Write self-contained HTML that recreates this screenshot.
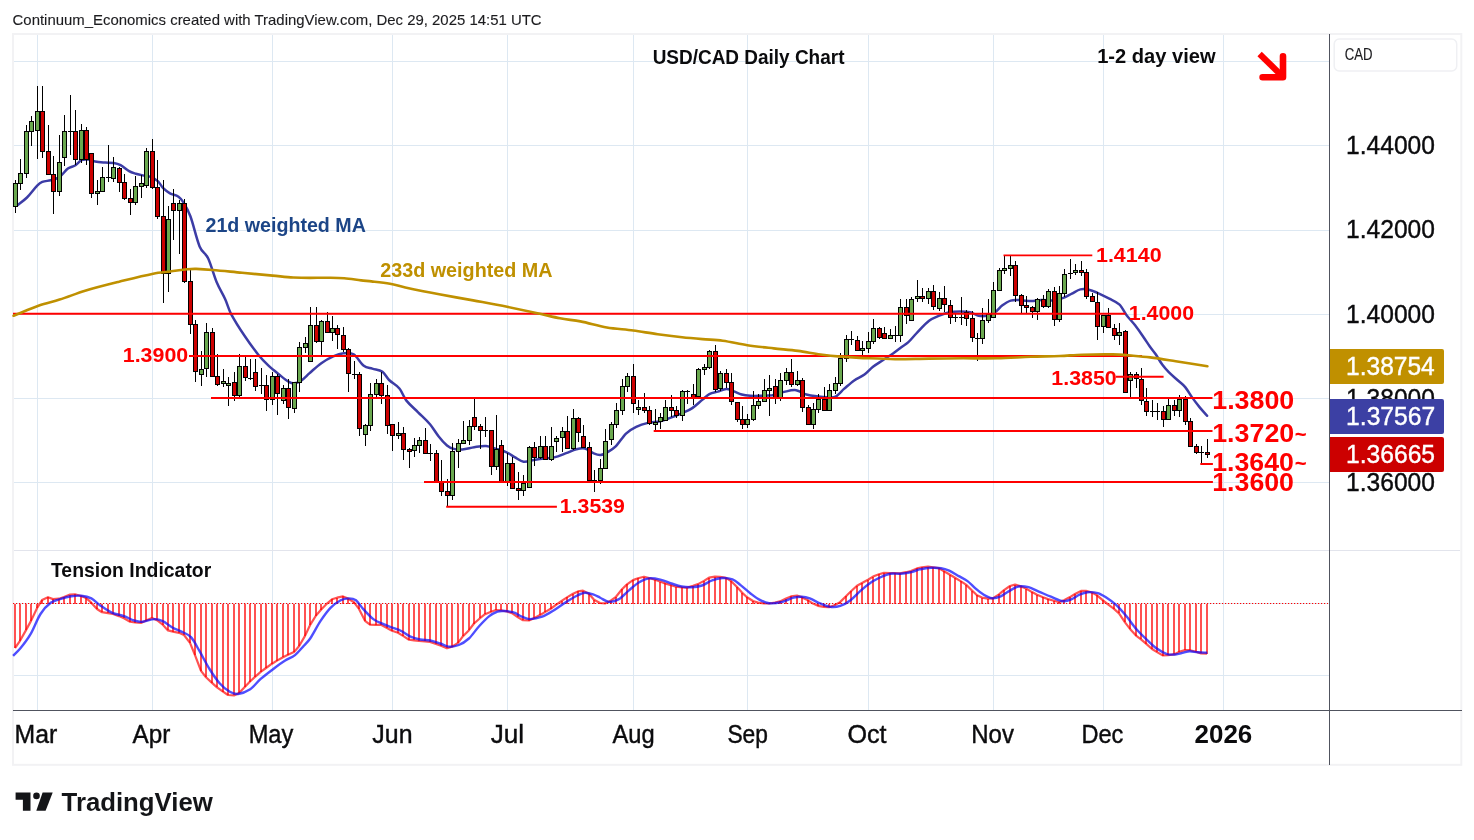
<!DOCTYPE html>
<html lang="en"><head><meta charset="utf-8"><title>USD/CAD Daily Chart</title>
<style>html,body{margin:0;padding:0;background:#fff}svg{display:block}</style>
</head><body>
<svg width="1474" height="840" viewBox="0 0 1474 840" font-family="'Liberation Sans', sans-serif">
<rect width="1474" height="840" fill="#fff"/>
<g stroke="#dde8f2" stroke-width="1" shape-rendering="crispEdges">
<line x1="37.5" y1="35" x2="37.5" y2="710.5"/>
<line x1="152.5" y1="35" x2="152.5" y2="710.5"/>
<line x1="272.5" y1="35" x2="272.5" y2="710.5"/>
<line x1="392.5" y1="35" x2="392.5" y2="710.5"/>
<line x1="507.5" y1="35" x2="507.5" y2="710.5"/>
<line x1="633.5" y1="35" x2="633.5" y2="710.5"/>
<line x1="747.5" y1="35" x2="747.5" y2="710.5"/>
<line x1="868.5" y1="35" x2="868.5" y2="710.5"/>
<line x1="993.5" y1="35" x2="993.5" y2="710.5"/>
<line x1="1103.5" y1="35" x2="1103.5" y2="710.5"/>
<line x1="1223.5" y1="35" x2="1223.5" y2="710.5"/>
<line x1="14" y1="61.5" x2="1329.5" y2="61.5"/>
<line x1="14" y1="145.5" x2="1329.5" y2="145.5"/>
<line x1="14" y1="230.5" x2="1329.5" y2="230.5"/>
<line x1="14" y1="314.5" x2="1329.5" y2="314.5"/>
<line x1="14" y1="398.5" x2="1329.5" y2="398.5"/>
<line x1="14" y1="482.5" x2="1329.5" y2="482.5"/>
<line x1="14" y1="675.5" x2="1329.5" y2="675.5"/>
</g>
<line x1="14" y1="550.5" x2="1460" y2="550.5" stroke="#e2e4ec" stroke-width="1" shape-rendering="crispEdges"/>
<rect x="13" y="34" width="1448.3" height="730.8" fill="none" stroke="#f2f2f4" stroke-width="2"/>
<path d="M16.8,205.7 C20.2,203.0 23.6,200.8 27.0,197.5 C30.4,194.2 33.8,189.1 37.2,185.6 C38.9,183.9 40.6,182.6 42.3,181.9 C45.1,180.8 48.0,181.0 50.8,180.2 C53.7,179.4 56.5,179.0 59.4,177.1 C62.2,175.2 65.1,170.7 67.9,168.6 C70.4,166.7 73.0,166.8 75.5,165.2 C77.5,163.9 79.5,161.0 81.5,160.1 C83.8,159.1 86.0,159.4 88.3,159.6 C90.6,159.8 92.8,161.1 95.1,161.5 C98.5,162.1 101.9,162.3 105.3,162.6 C108.1,162.8 111.0,162.5 113.8,163.0 C116.1,163.4 118.3,164.0 120.6,165.2 C123.4,166.7 126.3,169.6 129.1,171.2 C131.4,172.5 133.6,173.0 135.9,173.7 C138.2,174.4 140.4,174.9 142.7,175.4 C145.6,176.0 148.4,176.0 151.3,177.1 C153.6,178.0 155.8,179.3 158.1,181.4 C159.8,183.0 161.5,186.5 163.2,188.2 C165.5,190.5 167.7,192.0 170.0,193.3 C172.8,194.9 175.7,194.8 178.5,196.7 C180.2,197.9 181.9,199.8 183.6,202.6 C185.9,206.3 188.1,210.1 190.4,216.3 C193.5,224.7 196.5,239.1 199.6,246.4 C202.4,253.1 205.3,252.4 208.1,258.3 C210.9,264.2 213.8,275.3 216.6,282.1 C219.4,288.9 222.3,292.9 225.1,299.1 C227.1,303.4 229.0,310.1 231.0,313.8 C235.6,322.4 240.1,329.2 244.7,336.0 C249.2,342.8 253.8,349.0 258.3,354.7 C261.7,358.9 265.1,362.4 268.5,365.7 C271.9,368.9 275.3,371.5 278.7,374.2 C282.1,376.9 285.5,379.9 288.9,381.9 C290.6,382.9 292.3,383.4 294.0,383.3 C296.3,383.1 298.5,382.5 300.8,381.0 C303.6,379.2 306.5,375.9 309.3,373.4 C313.3,369.9 317.3,366.0 321.3,363.2 C325.3,360.4 329.2,358.2 333.2,356.4 C336.6,354.9 340.0,353.6 343.4,353.3 C346.8,352.9 350.2,352.2 353.6,354.3 C357.0,356.4 360.4,363.1 363.8,365.7 C366.6,367.9 369.5,367.7 372.3,368.6 C375.7,369.7 379.1,369.4 382.5,371.7 C384.7,373.2 386.9,377.8 389.1,380.0 C392.5,383.4 396.0,384.4 399.4,388.5 C401.7,391.2 403.9,397.5 406.2,400.4 C410.2,405.4 414.1,408.3 418.1,412.3 C422.1,416.3 426.0,419.6 430.0,424.2 C432.8,427.5 435.7,432.6 438.5,436.2 C441.3,439.8 444.2,443.1 447.0,445.5 C449.3,447.4 451.5,448.3 453.8,448.9 C456.6,449.6 459.5,449.6 462.3,449.4 C466.3,449.1 470.2,447.8 474.2,447.2 C478.2,446.6 482.1,445.7 486.1,446.0 C489.5,446.3 493.0,447.8 496.4,448.9 C499.8,449.9 503.2,450.8 506.6,452.3 C509.4,453.6 512.3,455.8 515.1,457.4 C517.9,459.0 520.8,461.3 523.6,461.7 C527.0,462.2 530.4,460.5 533.8,460.0 C537.2,459.5 540.6,459.0 544.0,458.6 C547.4,458.2 550.8,458.2 554.2,457.4 C558.2,456.4 562.1,454.7 566.1,453.2 C569.5,452.0 572.9,450.1 576.3,449.3 C579.2,448.6 582.0,447.9 584.9,448.6 C587.7,449.2 590.6,452.0 593.4,453.2 C595.7,454.1 598.1,455.1 600.4,454.9 C602.7,454.8 604.9,453.6 607.2,452.3 C610.0,450.7 612.9,449.2 615.7,446.4 C619.1,443.0 622.6,436.9 626.0,433.6 C629.4,430.3 632.8,428.4 636.2,426.8 C640.2,424.9 644.1,423.8 648.1,422.9 C652.1,422.0 656.0,422.1 660.0,421.2 C663.4,420.4 666.8,419.1 670.2,417.9 C674.2,416.5 678.1,415.0 682.1,413.2 C685.5,411.7 688.9,410.4 692.3,408.1 C695.7,405.8 699.1,402.4 702.5,399.6 C704.8,397.7 707.0,395.3 709.3,394.1 C712.1,392.6 715.0,392.4 717.8,391.6 C720.7,390.7 723.5,389.1 726.4,389.0 C728.7,388.9 730.9,390.3 733.2,391.1 C736.0,392.1 738.9,393.7 741.7,394.5 C744.5,395.3 747.4,395.6 750.2,395.8 C753.6,396.0 757.0,395.9 760.4,395.8 C764.4,395.7 768.3,395.9 772.3,395.3 C776.3,394.6 780.2,392.8 784.2,391.9 C788.2,391.0 792.1,389.7 796.1,390.2 C799.5,390.6 802.9,393.5 806.3,394.5 C810.3,395.6 814.3,396.0 818.3,396.5 C821.2,396.9 824.1,397.2 827.0,397.2 C829.8,397.2 832.7,398.0 835.5,396.6 C838.3,395.2 841.2,391.4 844.0,388.9 C847.4,386.0 850.8,382.8 854.2,380.4 C857.6,378.0 861.1,377.0 864.5,374.5 C867.3,372.5 870.2,369.0 873.0,366.8 C876.4,364.2 879.8,362.3 883.2,360.0 C886.6,357.7 890.0,355.6 893.4,353.2 C896.0,351.3 898.7,349.1 901.3,347.2 C903.6,345.5 905.8,344.5 908.1,342.4 C910.8,339.9 913.6,336.3 916.3,333.5 C920.6,329.1 924.8,324.1 929.1,320.8 C932.5,318.2 935.9,317.1 939.3,315.7 C942.7,314.3 946.1,313.0 949.5,312.3 C952.9,311.6 956.4,311.5 959.8,311.5 C963.2,311.5 966.6,311.5 970.0,312.3 C972.8,312.9 975.7,315.1 978.5,315.7 C981.3,316.3 984.2,316.3 987.0,315.7 C989.8,315.1 992.6,313.9 995.4,312.0 C997.6,310.5 999.9,307.2 1002.1,305.5 C1005.0,303.4 1007.8,301.4 1010.7,300.6 C1014.1,299.6 1017.5,300.1 1020.9,300.2 C1024.3,300.3 1027.7,301.1 1031.1,301.1 C1034.5,301.1 1038.0,300.1 1041.4,300.0 C1045.4,299.9 1049.3,300.8 1053.3,300.4 C1056.7,300.1 1060.0,299.1 1063.4,297.9 C1066.2,296.9 1069.1,295.0 1071.9,293.6 C1074.7,292.2 1077.6,290.0 1080.4,289.4 C1083.2,288.8 1086.1,289.1 1088.9,289.7 C1091.7,290.3 1094.6,291.6 1097.4,292.8 C1101.4,294.6 1105.3,296.6 1109.3,298.7 C1112.7,300.5 1116.2,301.4 1119.6,304.7 C1121.9,306.8 1124.1,311.9 1126.4,314.9 C1129.2,318.7 1132.1,321.4 1134.9,325.1 C1137.7,328.8 1140.6,332.9 1143.4,337.0 C1145.6,340.1 1147.8,343.6 1150.0,346.7 C1151.9,349.4 1153.8,351.5 1155.7,354.3 C1157.9,357.6 1160.2,361.8 1162.4,364.8 C1164.6,367.8 1166.8,370.2 1169.0,372.4 C1172.2,375.6 1175.4,378.1 1178.6,381.0 C1180.8,383.0 1183.0,384.4 1185.2,387.1 C1187.4,389.8 1189.7,394.0 1191.9,397.1 C1194.4,400.6 1197.0,404.0 1199.5,407.1 C1202.0,410.2 1204.6,412.8 1207.1,415.7" fill="none" stroke="#3c3ca6" stroke-width="2.5" stroke-linejoin="round" stroke-linecap="round"/>
<g shape-rendering="crispEdges">
<rect x="15" y="180" width="1" height="33" fill="#000"/>
<rect x="13" y="183" width="5" height="24" fill="#000"/>
<rect x="14" y="184" width="3" height="22" fill="#6aa84f"/>
<rect x="20" y="159" width="1" height="31" fill="#000"/>
<rect x="18" y="173" width="5" height="11" fill="#000"/>
<rect x="19" y="174" width="3" height="9" fill="#6aa84f"/>
<rect x="26" y="125" width="1" height="53" fill="#000"/>
<rect x="24" y="131" width="5" height="43" fill="#000"/>
<rect x="25" y="132" width="3" height="41" fill="#6aa84f"/>
<rect x="31" y="116" width="1" height="30" fill="#000"/>
<rect x="29" y="121" width="5" height="11" fill="#000"/>
<rect x="30" y="122" width="3" height="9" fill="#6aa84f"/>
<rect x="37" y="86" width="1" height="73" fill="#000"/>
<rect x="35" y="111" width="5" height="20" fill="#000"/>
<rect x="36" y="112" width="3" height="18" fill="#6aa84f"/>
<rect x="42" y="86" width="1" height="72" fill="#000"/>
<rect x="40" y="111" width="5" height="41" fill="#000"/>
<rect x="41" y="112" width="3" height="39" fill="#cc0000"/>
<rect x="48" y="125" width="1" height="50" fill="#000"/>
<rect x="46" y="151" width="5" height="24" fill="#000"/>
<rect x="47" y="152" width="3" height="22" fill="#cc0000"/>
<rect x="53" y="156" width="1" height="58" fill="#000"/>
<rect x="51" y="174" width="5" height="18" fill="#000"/>
<rect x="52" y="175" width="3" height="16" fill="#cc0000"/>
<rect x="59" y="135" width="1" height="61" fill="#000"/>
<rect x="57" y="162" width="5" height="30" fill="#000"/>
<rect x="58" y="163" width="3" height="28" fill="#6aa84f"/>
<rect x="64" y="115" width="1" height="51" fill="#000"/>
<rect x="62" y="131" width="5" height="27" fill="#000"/>
<rect x="63" y="132" width="3" height="25" fill="#6aa84f"/>
<rect x="70" y="95" width="1" height="60" fill="#000"/>
<rect x="68" y="131" width="5" height="1" fill="#000"/>
<rect x="75" y="110" width="1" height="55" fill="#000"/>
<rect x="73" y="131" width="5" height="29" fill="#000"/>
<rect x="74" y="132" width="3" height="27" fill="#cc0000"/>
<rect x="81" y="124" width="1" height="39" fill="#000"/>
<rect x="79" y="130" width="5" height="30" fill="#000"/>
<rect x="80" y="131" width="3" height="28" fill="#6aa84f"/>
<rect x="86" y="127" width="1" height="38" fill="#000"/>
<rect x="84" y="130" width="5" height="30" fill="#000"/>
<rect x="85" y="131" width="3" height="28" fill="#cc0000"/>
<rect x="91" y="153" width="1" height="45" fill="#000"/>
<rect x="89" y="153" width="5" height="41" fill="#000"/>
<rect x="90" y="154" width="3" height="39" fill="#cc0000"/>
<rect x="97" y="180" width="1" height="25" fill="#000"/>
<rect x="95" y="191" width="5" height="3" fill="#000"/>
<rect x="96" y="192" width="3" height="1" fill="#6aa84f"/>
<rect x="102" y="167" width="1" height="24" fill="#000"/>
<rect x="100" y="177" width="5" height="15" fill="#000"/>
<rect x="101" y="178" width="3" height="13" fill="#6aa84f"/>
<rect x="108" y="145" width="1" height="37" fill="#000"/>
<rect x="106" y="177" width="5" height="1" fill="#000"/>
<rect x="113" y="157" width="1" height="25" fill="#000"/>
<rect x="111" y="167" width="5" height="12" fill="#000"/>
<rect x="112" y="168" width="3" height="10" fill="#6aa84f"/>
<rect x="119" y="167" width="1" height="25" fill="#000"/>
<rect x="117" y="168" width="5" height="15" fill="#000"/>
<rect x="118" y="169" width="3" height="13" fill="#cc0000"/>
<rect x="124" y="174" width="1" height="26" fill="#000"/>
<rect x="122" y="182" width="5" height="17" fill="#000"/>
<rect x="123" y="183" width="3" height="15" fill="#cc0000"/>
<rect x="130" y="189" width="1" height="26" fill="#000"/>
<rect x="128" y="198" width="5" height="5" fill="#000"/>
<rect x="129" y="199" width="3" height="3" fill="#cc0000"/>
<rect x="135" y="176" width="1" height="29" fill="#000"/>
<rect x="133" y="186" width="5" height="17" fill="#000"/>
<rect x="134" y="187" width="3" height="15" fill="#6aa84f"/>
<rect x="141" y="175" width="1" height="23" fill="#000"/>
<rect x="139" y="183" width="5" height="4" fill="#000"/>
<rect x="140" y="184" width="3" height="2" fill="#6aa84f"/>
<rect x="146" y="148" width="1" height="40" fill="#000"/>
<rect x="144" y="151" width="5" height="35" fill="#000"/>
<rect x="145" y="152" width="3" height="33" fill="#6aa84f"/>
<rect x="152" y="139" width="1" height="50" fill="#000"/>
<rect x="150" y="151" width="5" height="37" fill="#000"/>
<rect x="151" y="152" width="3" height="35" fill="#cc0000"/>
<rect x="157" y="160" width="1" height="59" fill="#000"/>
<rect x="155" y="187" width="5" height="30" fill="#000"/>
<rect x="156" y="188" width="3" height="28" fill="#cc0000"/>
<rect x="163" y="180" width="1" height="123" fill="#000"/>
<rect x="161" y="216" width="5" height="58" fill="#000"/>
<rect x="162" y="217" width="3" height="56" fill="#cc0000"/>
<rect x="168" y="206" width="1" height="86" fill="#000"/>
<rect x="166" y="219" width="5" height="55" fill="#000"/>
<rect x="167" y="220" width="3" height="53" fill="#6aa84f"/>
<rect x="173" y="189" width="1" height="51" fill="#000"/>
<rect x="171" y="203" width="5" height="8" fill="#000"/>
<rect x="172" y="204" width="3" height="6" fill="#cc0000"/>
<rect x="179" y="200" width="1" height="54" fill="#000"/>
<rect x="177" y="203" width="5" height="8" fill="#000"/>
<rect x="178" y="204" width="3" height="6" fill="#6aa84f"/>
<rect x="184" y="199" width="1" height="84" fill="#000"/>
<rect x="182" y="203" width="5" height="79" fill="#000"/>
<rect x="183" y="204" width="3" height="77" fill="#cc0000"/>
<rect x="190" y="268" width="1" height="66" fill="#000"/>
<rect x="188" y="281" width="5" height="44" fill="#000"/>
<rect x="189" y="282" width="3" height="42" fill="#cc0000"/>
<rect x="195" y="320" width="1" height="62" fill="#000"/>
<rect x="193" y="324" width="5" height="48" fill="#000"/>
<rect x="194" y="325" width="3" height="46" fill="#cc0000"/>
<rect x="201" y="351" width="1" height="35" fill="#000"/>
<rect x="199" y="369" width="5" height="6" fill="#000"/>
<rect x="200" y="370" width="3" height="4" fill="#6aa84f"/>
<rect x="206" y="323" width="1" height="54" fill="#000"/>
<rect x="204" y="332" width="5" height="37" fill="#000"/>
<rect x="205" y="333" width="3" height="35" fill="#6aa84f"/>
<rect x="212" y="328" width="1" height="49" fill="#000"/>
<rect x="210" y="332" width="5" height="45" fill="#000"/>
<rect x="211" y="333" width="3" height="43" fill="#cc0000"/>
<rect x="217" y="354" width="1" height="32" fill="#000"/>
<rect x="215" y="376" width="5" height="9" fill="#000"/>
<rect x="216" y="377" width="3" height="7" fill="#cc0000"/>
<rect x="223" y="369" width="1" height="18" fill="#000"/>
<rect x="221" y="381" width="5" height="3" fill="#000"/>
<rect x="222" y="382" width="3" height="1" fill="#6aa84f"/>
<rect x="228" y="377" width="1" height="29" fill="#000"/>
<rect x="226" y="383" width="5" height="3" fill="#000"/>
<rect x="227" y="384" width="3" height="1" fill="#6aa84f"/>
<rect x="234" y="372" width="1" height="29" fill="#000"/>
<rect x="232" y="382" width="5" height="14" fill="#000"/>
<rect x="233" y="383" width="3" height="12" fill="#cc0000"/>
<rect x="239" y="354" width="1" height="43" fill="#000"/>
<rect x="237" y="366" width="5" height="30" fill="#000"/>
<rect x="238" y="367" width="3" height="28" fill="#6aa84f"/>
<rect x="245" y="357" width="1" height="24" fill="#000"/>
<rect x="243" y="366" width="5" height="12" fill="#000"/>
<rect x="244" y="367" width="3" height="10" fill="#cc0000"/>
<rect x="250" y="359" width="1" height="21" fill="#000"/>
<rect x="248" y="378" width="5" height="1" fill="#000"/>
<rect x="255" y="359" width="1" height="32" fill="#000"/>
<rect x="253" y="372" width="5" height="15" fill="#000"/>
<rect x="254" y="373" width="3" height="13" fill="#cc0000"/>
<rect x="261" y="368" width="1" height="26" fill="#000"/>
<rect x="259" y="385" width="5" height="1" fill="#000"/>
<rect x="266" y="375" width="1" height="36" fill="#000"/>
<rect x="264" y="385" width="5" height="15" fill="#000"/>
<rect x="265" y="386" width="3" height="13" fill="#cc0000"/>
<rect x="272" y="372" width="1" height="33" fill="#000"/>
<rect x="270" y="376" width="5" height="24" fill="#000"/>
<rect x="271" y="377" width="3" height="22" fill="#6aa84f"/>
<rect x="277" y="374" width="1" height="41" fill="#000"/>
<rect x="275" y="376" width="5" height="18" fill="#000"/>
<rect x="276" y="377" width="3" height="16" fill="#cc0000"/>
<rect x="283" y="385" width="1" height="19" fill="#000"/>
<rect x="281" y="388" width="5" height="13" fill="#000"/>
<rect x="282" y="389" width="3" height="11" fill="#6aa84f"/>
<rect x="288" y="379" width="1" height="40" fill="#000"/>
<rect x="286" y="388" width="5" height="20" fill="#000"/>
<rect x="287" y="389" width="3" height="18" fill="#cc0000"/>
<rect x="294" y="382" width="1" height="31" fill="#000"/>
<rect x="292" y="382" width="5" height="27" fill="#000"/>
<rect x="293" y="383" width="3" height="25" fill="#6aa84f"/>
<rect x="299" y="342" width="1" height="50" fill="#000"/>
<rect x="297" y="347" width="5" height="36" fill="#000"/>
<rect x="298" y="348" width="3" height="34" fill="#6aa84f"/>
<rect x="305" y="337" width="1" height="16" fill="#000"/>
<rect x="303" y="343" width="5" height="5" fill="#000"/>
<rect x="304" y="344" width="3" height="3" fill="#6aa84f"/>
<rect x="310" y="307" width="1" height="55" fill="#000"/>
<rect x="308" y="325" width="5" height="37" fill="#000"/>
<rect x="309" y="326" width="3" height="35" fill="#6aa84f"/>
<rect x="316" y="307" width="1" height="36" fill="#000"/>
<rect x="314" y="325" width="5" height="17" fill="#000"/>
<rect x="315" y="326" width="3" height="15" fill="#cc0000"/>
<rect x="321" y="320" width="1" height="35" fill="#000"/>
<rect x="319" y="321" width="5" height="21" fill="#000"/>
<rect x="320" y="322" width="3" height="19" fill="#6aa84f"/>
<rect x="327" y="312" width="1" height="20" fill="#000"/>
<rect x="325" y="321" width="5" height="12" fill="#000"/>
<rect x="326" y="322" width="3" height="10" fill="#cc0000"/>
<rect x="332" y="316" width="1" height="25" fill="#000"/>
<rect x="330" y="328" width="5" height="5" fill="#000"/>
<rect x="331" y="329" width="3" height="3" fill="#6aa84f"/>
<rect x="337" y="325" width="1" height="24" fill="#000"/>
<rect x="335" y="328" width="5" height="7" fill="#000"/>
<rect x="336" y="329" width="3" height="5" fill="#cc0000"/>
<rect x="343" y="327" width="1" height="25" fill="#000"/>
<rect x="341" y="335" width="5" height="15" fill="#000"/>
<rect x="342" y="336" width="3" height="13" fill="#cc0000"/>
<rect x="348" y="348" width="1" height="44" fill="#000"/>
<rect x="346" y="349" width="5" height="25" fill="#000"/>
<rect x="347" y="350" width="3" height="23" fill="#cc0000"/>
<rect x="354" y="361" width="1" height="18" fill="#000"/>
<rect x="352" y="374" width="5" height="1" fill="#000"/>
<rect x="359" y="372" width="1" height="64" fill="#000"/>
<rect x="357" y="374" width="5" height="55" fill="#000"/>
<rect x="358" y="375" width="3" height="53" fill="#cc0000"/>
<rect x="365" y="424" width="1" height="22" fill="#000"/>
<rect x="363" y="425" width="5" height="10" fill="#000"/>
<rect x="364" y="426" width="3" height="8" fill="#6aa84f"/>
<rect x="370" y="383" width="1" height="48" fill="#000"/>
<rect x="368" y="394" width="5" height="32" fill="#000"/>
<rect x="369" y="395" width="3" height="30" fill="#6aa84f"/>
<rect x="376" y="379" width="1" height="18" fill="#000"/>
<rect x="374" y="383" width="5" height="12" fill="#000"/>
<rect x="375" y="384" width="3" height="10" fill="#6aa84f"/>
<rect x="381" y="372" width="1" height="32" fill="#000"/>
<rect x="379" y="383" width="5" height="13" fill="#000"/>
<rect x="380" y="384" width="3" height="11" fill="#cc0000"/>
<rect x="387" y="385" width="1" height="49" fill="#000"/>
<rect x="385" y="395" width="5" height="31" fill="#000"/>
<rect x="386" y="396" width="3" height="29" fill="#cc0000"/>
<rect x="392" y="425" width="1" height="26" fill="#000"/>
<rect x="390" y="424" width="5" height="12" fill="#000"/>
<rect x="391" y="425" width="3" height="10" fill="#cc0000"/>
<rect x="398" y="422" width="1" height="17" fill="#000"/>
<rect x="396" y="433" width="5" height="3" fill="#000"/>
<rect x="397" y="434" width="3" height="1" fill="#6aa84f"/>
<rect x="403" y="427" width="1" height="33" fill="#000"/>
<rect x="401" y="433" width="5" height="17" fill="#000"/>
<rect x="402" y="434" width="3" height="15" fill="#cc0000"/>
<rect x="409" y="448" width="1" height="20" fill="#000"/>
<rect x="407" y="449" width="5" height="3" fill="#000"/>
<rect x="408" y="450" width="3" height="1" fill="#cc0000"/>
<rect x="414" y="438" width="1" height="19" fill="#000"/>
<rect x="412" y="445" width="5" height="6" fill="#000"/>
<rect x="413" y="446" width="3" height="4" fill="#6aa84f"/>
<rect x="419" y="437" width="1" height="16" fill="#000"/>
<rect x="417" y="440" width="5" height="6" fill="#000"/>
<rect x="418" y="441" width="3" height="4" fill="#6aa84f"/>
<rect x="425" y="428" width="1" height="25" fill="#000"/>
<rect x="423" y="440" width="5" height="14" fill="#000"/>
<rect x="424" y="441" width="3" height="12" fill="#cc0000"/>
<rect x="430" y="444" width="1" height="17" fill="#000"/>
<rect x="428" y="453" width="5" height="1" fill="#000"/>
<rect x="436" y="450" width="1" height="32" fill="#000"/>
<rect x="434" y="453" width="5" height="29" fill="#000"/>
<rect x="435" y="454" width="3" height="27" fill="#cc0000"/>
<rect x="441" y="460" width="1" height="36" fill="#000"/>
<rect x="439" y="481" width="5" height="11" fill="#000"/>
<rect x="440" y="482" width="3" height="9" fill="#cc0000"/>
<rect x="447" y="479" width="1" height="28" fill="#000"/>
<rect x="445" y="491" width="5" height="5" fill="#000"/>
<rect x="446" y="492" width="3" height="3" fill="#cc0000"/>
<rect x="452" y="443" width="1" height="57" fill="#000"/>
<rect x="450" y="451" width="5" height="45" fill="#000"/>
<rect x="451" y="452" width="3" height="43" fill="#6aa84f"/>
<rect x="458" y="439" width="1" height="29" fill="#000"/>
<rect x="456" y="443" width="5" height="9" fill="#000"/>
<rect x="457" y="444" width="3" height="7" fill="#6aa84f"/>
<rect x="463" y="421" width="1" height="23" fill="#000"/>
<rect x="461" y="440" width="5" height="4" fill="#000"/>
<rect x="462" y="441" width="3" height="2" fill="#6aa84f"/>
<rect x="469" y="420" width="1" height="25" fill="#000"/>
<rect x="467" y="426" width="5" height="15" fill="#000"/>
<rect x="468" y="427" width="3" height="13" fill="#6aa84f"/>
<rect x="474" y="399" width="1" height="31" fill="#000"/>
<rect x="472" y="417" width="5" height="10" fill="#000"/>
<rect x="473" y="418" width="3" height="8" fill="#cc0000"/>
<rect x="480" y="424" width="1" height="25" fill="#000"/>
<rect x="478" y="426" width="5" height="5" fill="#000"/>
<rect x="479" y="427" width="3" height="3" fill="#cc0000"/>
<rect x="485" y="417" width="1" height="20" fill="#000"/>
<rect x="483" y="430" width="5" height="1" fill="#000"/>
<rect x="491" y="430" width="1" height="45" fill="#000"/>
<rect x="489" y="430" width="5" height="37" fill="#000"/>
<rect x="490" y="431" width="3" height="35" fill="#cc0000"/>
<rect x="496" y="415" width="1" height="55" fill="#000"/>
<rect x="494" y="449" width="5" height="18" fill="#000"/>
<rect x="495" y="450" width="3" height="16" fill="#6aa84f"/>
<rect x="501" y="440" width="1" height="42" fill="#000"/>
<rect x="499" y="445" width="5" height="37" fill="#000"/>
<rect x="500" y="446" width="3" height="35" fill="#cc0000"/>
<rect x="507" y="453" width="1" height="33" fill="#000"/>
<rect x="505" y="463" width="5" height="19" fill="#000"/>
<rect x="506" y="464" width="3" height="17" fill="#6aa84f"/>
<rect x="512" y="457" width="1" height="32" fill="#000"/>
<rect x="510" y="463" width="5" height="26" fill="#000"/>
<rect x="511" y="464" width="3" height="24" fill="#cc0000"/>
<rect x="518" y="472" width="1" height="28" fill="#000"/>
<rect x="516" y="488" width="5" height="3" fill="#000"/>
<rect x="517" y="489" width="3" height="1" fill="#cc0000"/>
<rect x="523" y="475" width="1" height="21" fill="#000"/>
<rect x="521" y="483" width="5" height="8" fill="#000"/>
<rect x="522" y="484" width="3" height="6" fill="#6aa84f"/>
<rect x="529" y="446" width="1" height="42" fill="#000"/>
<rect x="527" y="447" width="5" height="41" fill="#000"/>
<rect x="528" y="448" width="3" height="39" fill="#6aa84f"/>
<rect x="534" y="442" width="1" height="24" fill="#000"/>
<rect x="532" y="447" width="5" height="11" fill="#000"/>
<rect x="533" y="448" width="3" height="9" fill="#cc0000"/>
<rect x="540" y="436" width="1" height="23" fill="#000"/>
<rect x="538" y="446" width="5" height="12" fill="#000"/>
<rect x="539" y="447" width="3" height="10" fill="#6aa84f"/>
<rect x="545" y="436" width="1" height="24" fill="#000"/>
<rect x="543" y="446" width="5" height="14" fill="#000"/>
<rect x="544" y="447" width="3" height="12" fill="#cc0000"/>
<rect x="551" y="427" width="1" height="34" fill="#000"/>
<rect x="549" y="446" width="5" height="14" fill="#000"/>
<rect x="550" y="447" width="3" height="12" fill="#6aa84f"/>
<rect x="556" y="436" width="1" height="16" fill="#000"/>
<rect x="554" y="438" width="5" height="4" fill="#000"/>
<rect x="555" y="439" width="3" height="2" fill="#6aa84f"/>
<rect x="562" y="427" width="1" height="25" fill="#000"/>
<rect x="560" y="431" width="5" height="7" fill="#000"/>
<rect x="561" y="432" width="3" height="5" fill="#6aa84f"/>
<rect x="567" y="416" width="1" height="33" fill="#000"/>
<rect x="565" y="431" width="5" height="18" fill="#000"/>
<rect x="566" y="432" width="3" height="16" fill="#cc0000"/>
<rect x="573" y="409" width="1" height="41" fill="#000"/>
<rect x="571" y="418" width="5" height="31" fill="#000"/>
<rect x="572" y="419" width="3" height="29" fill="#6aa84f"/>
<rect x="578" y="417" width="1" height="25" fill="#000"/>
<rect x="576" y="418" width="5" height="15" fill="#000"/>
<rect x="577" y="419" width="3" height="13" fill="#cc0000"/>
<rect x="583" y="425" width="1" height="23" fill="#000"/>
<rect x="581" y="436" width="5" height="12" fill="#000"/>
<rect x="582" y="437" width="3" height="10" fill="#cc0000"/>
<rect x="589" y="442" width="1" height="39" fill="#000"/>
<rect x="587" y="447" width="5" height="34" fill="#000"/>
<rect x="588" y="448" width="3" height="32" fill="#cc0000"/>
<rect x="594" y="470" width="1" height="22" fill="#000"/>
<rect x="592" y="480" width="5" height="1" fill="#000"/>
<rect x="600" y="459" width="1" height="25" fill="#000"/>
<rect x="598" y="468" width="5" height="13" fill="#000"/>
<rect x="599" y="469" width="3" height="11" fill="#6aa84f"/>
<rect x="605" y="429" width="1" height="40" fill="#000"/>
<rect x="603" y="441" width="5" height="28" fill="#000"/>
<rect x="604" y="442" width="3" height="26" fill="#6aa84f"/>
<rect x="611" y="422" width="1" height="23" fill="#000"/>
<rect x="609" y="424" width="5" height="16" fill="#000"/>
<rect x="610" y="425" width="3" height="14" fill="#6aa84f"/>
<rect x="616" y="403" width="1" height="25" fill="#000"/>
<rect x="614" y="410" width="5" height="15" fill="#000"/>
<rect x="615" y="411" width="3" height="13" fill="#6aa84f"/>
<rect x="622" y="379" width="1" height="36" fill="#000"/>
<rect x="620" y="386" width="5" height="25" fill="#000"/>
<rect x="621" y="387" width="3" height="23" fill="#6aa84f"/>
<rect x="627" y="373" width="1" height="19" fill="#000"/>
<rect x="625" y="376" width="5" height="11" fill="#000"/>
<rect x="626" y="377" width="3" height="9" fill="#6aa84f"/>
<rect x="633" y="364" width="1" height="49" fill="#000"/>
<rect x="631" y="376" width="5" height="28" fill="#000"/>
<rect x="632" y="377" width="3" height="26" fill="#cc0000"/>
<rect x="638" y="400" width="1" height="15" fill="#000"/>
<rect x="636" y="407" width="5" height="3" fill="#000"/>
<rect x="637" y="408" width="3" height="1" fill="#6aa84f"/>
<rect x="644" y="393" width="1" height="20" fill="#000"/>
<rect x="642" y="407" width="5" height="4" fill="#000"/>
<rect x="643" y="408" width="3" height="2" fill="#cc0000"/>
<rect x="649" y="406" width="1" height="19" fill="#000"/>
<rect x="647" y="410" width="5" height="14" fill="#000"/>
<rect x="648" y="411" width="3" height="12" fill="#cc0000"/>
<rect x="655" y="409" width="1" height="22" fill="#000"/>
<rect x="653" y="422" width="5" height="3" fill="#000"/>
<rect x="654" y="423" width="3" height="1" fill="#6aa84f"/>
<rect x="660" y="413" width="1" height="16" fill="#000"/>
<rect x="658" y="417" width="5" height="5" fill="#000"/>
<rect x="659" y="418" width="3" height="3" fill="#6aa84f"/>
<rect x="665" y="400" width="1" height="21" fill="#000"/>
<rect x="663" y="407" width="5" height="14" fill="#000"/>
<rect x="664" y="408" width="3" height="12" fill="#6aa84f"/>
<rect x="671" y="395" width="1" height="22" fill="#000"/>
<rect x="669" y="407" width="5" height="4" fill="#000"/>
<rect x="670" y="408" width="3" height="2" fill="#cc0000"/>
<rect x="676" y="406" width="1" height="12" fill="#000"/>
<rect x="674" y="410" width="5" height="6" fill="#000"/>
<rect x="675" y="411" width="3" height="4" fill="#cc0000"/>
<rect x="682" y="390" width="1" height="31" fill="#000"/>
<rect x="680" y="391" width="5" height="25" fill="#000"/>
<rect x="681" y="392" width="3" height="23" fill="#6aa84f"/>
<rect x="687" y="390" width="1" height="14" fill="#000"/>
<rect x="685" y="391" width="5" height="1" fill="#000"/>
<rect x="693" y="384" width="1" height="21" fill="#000"/>
<rect x="691" y="394" width="5" height="4" fill="#000"/>
<rect x="692" y="395" width="3" height="2" fill="#cc0000"/>
<rect x="698" y="368" width="1" height="29" fill="#000"/>
<rect x="696" y="369" width="5" height="28" fill="#000"/>
<rect x="697" y="370" width="3" height="26" fill="#6aa84f"/>
<rect x="704" y="364" width="1" height="11" fill="#000"/>
<rect x="702" y="367" width="5" height="3" fill="#000"/>
<rect x="703" y="368" width="3" height="1" fill="#6aa84f"/>
<rect x="709" y="350" width="1" height="19" fill="#000"/>
<rect x="707" y="351" width="5" height="17" fill="#000"/>
<rect x="708" y="352" width="3" height="15" fill="#6aa84f"/>
<rect x="715" y="345" width="1" height="47" fill="#000"/>
<rect x="713" y="351" width="5" height="39" fill="#000"/>
<rect x="714" y="352" width="3" height="37" fill="#cc0000"/>
<rect x="720" y="371" width="1" height="20" fill="#000"/>
<rect x="718" y="373" width="5" height="16" fill="#000"/>
<rect x="719" y="374" width="3" height="14" fill="#6aa84f"/>
<rect x="726" y="369" width="1" height="19" fill="#000"/>
<rect x="724" y="373" width="5" height="10" fill="#000"/>
<rect x="725" y="374" width="3" height="8" fill="#cc0000"/>
<rect x="731" y="373" width="1" height="32" fill="#000"/>
<rect x="729" y="382" width="5" height="20" fill="#000"/>
<rect x="730" y="383" width="3" height="18" fill="#cc0000"/>
<rect x="737" y="402" width="1" height="20" fill="#000"/>
<rect x="735" y="402" width="5" height="18" fill="#000"/>
<rect x="736" y="403" width="3" height="16" fill="#cc0000"/>
<rect x="742" y="406" width="1" height="23" fill="#000"/>
<rect x="740" y="419" width="5" height="6" fill="#000"/>
<rect x="741" y="420" width="3" height="4" fill="#cc0000"/>
<rect x="747" y="414" width="1" height="14" fill="#000"/>
<rect x="745" y="419" width="5" height="6" fill="#000"/>
<rect x="746" y="420" width="3" height="4" fill="#6aa84f"/>
<rect x="753" y="391" width="1" height="30" fill="#000"/>
<rect x="751" y="405" width="5" height="15" fill="#000"/>
<rect x="752" y="406" width="3" height="13" fill="#6aa84f"/>
<rect x="758" y="394" width="1" height="15" fill="#000"/>
<rect x="756" y="401" width="5" height="5" fill="#000"/>
<rect x="757" y="402" width="3" height="3" fill="#6aa84f"/>
<rect x="764" y="379" width="1" height="23" fill="#000"/>
<rect x="762" y="390" width="5" height="12" fill="#000"/>
<rect x="763" y="391" width="3" height="10" fill="#6aa84f"/>
<rect x="769" y="375" width="1" height="41" fill="#000"/>
<rect x="767" y="388" width="5" height="3" fill="#000"/>
<rect x="768" y="389" width="3" height="1" fill="#6aa84f"/>
<rect x="775" y="379" width="1" height="25" fill="#000"/>
<rect x="773" y="386" width="5" height="12" fill="#000"/>
<rect x="774" y="387" width="3" height="10" fill="#cc0000"/>
<rect x="780" y="373" width="1" height="28" fill="#000"/>
<rect x="778" y="380" width="5" height="18" fill="#000"/>
<rect x="779" y="381" width="3" height="16" fill="#6aa84f"/>
<rect x="786" y="368" width="1" height="17" fill="#000"/>
<rect x="784" y="372" width="5" height="9" fill="#000"/>
<rect x="785" y="373" width="3" height="7" fill="#6aa84f"/>
<rect x="791" y="359" width="1" height="28" fill="#000"/>
<rect x="789" y="372" width="5" height="13" fill="#000"/>
<rect x="790" y="373" width="3" height="11" fill="#cc0000"/>
<rect x="797" y="371" width="1" height="15" fill="#000"/>
<rect x="795" y="380" width="5" height="5" fill="#000"/>
<rect x="796" y="381" width="3" height="3" fill="#6aa84f"/>
<rect x="802" y="378" width="1" height="34" fill="#000"/>
<rect x="800" y="380" width="5" height="28" fill="#000"/>
<rect x="801" y="381" width="3" height="26" fill="#cc0000"/>
<rect x="808" y="405" width="1" height="19" fill="#000"/>
<rect x="806" y="407" width="5" height="18" fill="#000"/>
<rect x="807" y="408" width="3" height="16" fill="#cc0000"/>
<rect x="813" y="403" width="1" height="26" fill="#000"/>
<rect x="811" y="409" width="5" height="16" fill="#000"/>
<rect x="812" y="410" width="3" height="14" fill="#6aa84f"/>
<rect x="818" y="394" width="1" height="19" fill="#000"/>
<rect x="816" y="399" width="5" height="11" fill="#000"/>
<rect x="817" y="400" width="3" height="9" fill="#6aa84f"/>
<rect x="824" y="387" width="1" height="23" fill="#000"/>
<rect x="822" y="399" width="5" height="12" fill="#000"/>
<rect x="823" y="400" width="3" height="10" fill="#cc0000"/>
<rect x="829" y="384" width="1" height="26" fill="#000"/>
<rect x="827" y="390" width="5" height="21" fill="#000"/>
<rect x="828" y="391" width="3" height="19" fill="#6aa84f"/>
<rect x="835" y="377" width="1" height="17" fill="#000"/>
<rect x="833" y="383" width="5" height="8" fill="#000"/>
<rect x="834" y="384" width="3" height="6" fill="#6aa84f"/>
<rect x="840" y="353" width="1" height="33" fill="#000"/>
<rect x="838" y="358" width="5" height="26" fill="#000"/>
<rect x="839" y="359" width="3" height="24" fill="#6aa84f"/>
<rect x="846" y="335" width="1" height="27" fill="#000"/>
<rect x="844" y="339" width="5" height="20" fill="#000"/>
<rect x="845" y="340" width="3" height="18" fill="#6aa84f"/>
<rect x="851" y="331" width="1" height="14" fill="#000"/>
<rect x="849" y="339" width="5" height="1" fill="#000"/>
<rect x="857" y="336" width="1" height="15" fill="#000"/>
<rect x="855" y="340" width="5" height="11" fill="#000"/>
<rect x="856" y="341" width="3" height="9" fill="#cc0000"/>
<rect x="862" y="341" width="1" height="14" fill="#000"/>
<rect x="860" y="348" width="5" height="3" fill="#000"/>
<rect x="861" y="349" width="3" height="1" fill="#6aa84f"/>
<rect x="868" y="332" width="1" height="21" fill="#000"/>
<rect x="866" y="341" width="5" height="8" fill="#000"/>
<rect x="867" y="342" width="3" height="6" fill="#6aa84f"/>
<rect x="873" y="319" width="1" height="25" fill="#000"/>
<rect x="871" y="328" width="5" height="14" fill="#000"/>
<rect x="872" y="329" width="3" height="12" fill="#6aa84f"/>
<rect x="879" y="327" width="1" height="12" fill="#000"/>
<rect x="877" y="328" width="5" height="10" fill="#000"/>
<rect x="878" y="329" width="3" height="8" fill="#cc0000"/>
<rect x="884" y="327" width="1" height="12" fill="#000"/>
<rect x="882" y="333" width="5" height="6" fill="#000"/>
<rect x="883" y="334" width="3" height="4" fill="#cc0000"/>
<rect x="890" y="329" width="1" height="10" fill="#000"/>
<rect x="888" y="335" width="5" height="4" fill="#000"/>
<rect x="889" y="336" width="3" height="2" fill="#6aa84f"/>
<rect x="895" y="326" width="1" height="16" fill="#000"/>
<rect x="893" y="335" width="5" height="1" fill="#000"/>
<rect x="900" y="299" width="1" height="43" fill="#000"/>
<rect x="898" y="307" width="5" height="29" fill="#000"/>
<rect x="899" y="308" width="3" height="27" fill="#6aa84f"/>
<rect x="906" y="299" width="1" height="25" fill="#000"/>
<rect x="904" y="307" width="5" height="9" fill="#000"/>
<rect x="905" y="308" width="3" height="7" fill="#cc0000"/>
<rect x="911" y="297" width="1" height="24" fill="#000"/>
<rect x="909" y="299" width="5" height="22" fill="#000"/>
<rect x="910" y="300" width="3" height="20" fill="#6aa84f"/>
<rect x="917" y="280" width="1" height="22" fill="#000"/>
<rect x="915" y="296" width="5" height="3" fill="#000"/>
<rect x="916" y="297" width="3" height="1" fill="#6aa84f"/>
<rect x="922" y="288" width="1" height="14" fill="#000"/>
<rect x="920" y="296" width="5" height="3" fill="#000"/>
<rect x="921" y="297" width="3" height="1" fill="#cc0000"/>
<rect x="928" y="288" width="1" height="16" fill="#000"/>
<rect x="926" y="291" width="5" height="8" fill="#000"/>
<rect x="927" y="292" width="3" height="6" fill="#6aa84f"/>
<rect x="933" y="285" width="1" height="25" fill="#000"/>
<rect x="931" y="291" width="5" height="16" fill="#000"/>
<rect x="932" y="292" width="3" height="14" fill="#cc0000"/>
<rect x="939" y="292" width="1" height="19" fill="#000"/>
<rect x="937" y="298" width="5" height="11" fill="#000"/>
<rect x="938" y="299" width="3" height="9" fill="#6aa84f"/>
<rect x="944" y="286" width="1" height="26" fill="#000"/>
<rect x="942" y="298" width="5" height="7" fill="#000"/>
<rect x="943" y="299" width="3" height="5" fill="#cc0000"/>
<rect x="950" y="300" width="1" height="24" fill="#000"/>
<rect x="948" y="305" width="5" height="13" fill="#000"/>
<rect x="949" y="306" width="3" height="11" fill="#cc0000"/>
<rect x="955" y="313" width="1" height="9" fill="#000"/>
<rect x="953" y="317" width="5" height="1" fill="#000"/>
<rect x="961" y="297" width="1" height="28" fill="#000"/>
<rect x="959" y="317" width="5" height="1" fill="#000"/>
<rect x="966" y="310" width="1" height="16" fill="#000"/>
<rect x="964" y="312" width="5" height="7" fill="#000"/>
<rect x="965" y="313" width="3" height="5" fill="#cc0000"/>
<rect x="972" y="311" width="1" height="31" fill="#000"/>
<rect x="970" y="318" width="5" height="20" fill="#000"/>
<rect x="971" y="319" width="3" height="18" fill="#cc0000"/>
<rect x="977" y="333" width="1" height="28" fill="#000"/>
<rect x="975" y="338" width="5" height="1" fill="#000"/>
<rect x="982" y="308" width="1" height="36" fill="#000"/>
<rect x="980" y="320" width="5" height="19" fill="#000"/>
<rect x="981" y="321" width="3" height="17" fill="#6aa84f"/>
<rect x="988" y="299" width="1" height="24" fill="#000"/>
<rect x="986" y="314" width="5" height="7" fill="#000"/>
<rect x="987" y="315" width="3" height="5" fill="#6aa84f"/>
<rect x="993" y="282" width="1" height="36" fill="#000"/>
<rect x="991" y="290" width="5" height="28" fill="#000"/>
<rect x="992" y="291" width="3" height="26" fill="#6aa84f"/>
<rect x="999" y="268" width="1" height="23" fill="#000"/>
<rect x="997" y="270" width="5" height="21" fill="#000"/>
<rect x="998" y="271" width="3" height="19" fill="#6aa84f"/>
<rect x="1004" y="255" width="1" height="19" fill="#000"/>
<rect x="1002" y="268" width="5" height="3" fill="#000"/>
<rect x="1003" y="269" width="3" height="1" fill="#6aa84f"/>
<rect x="1010" y="256" width="1" height="20" fill="#000"/>
<rect x="1008" y="265" width="5" height="4" fill="#000"/>
<rect x="1009" y="266" width="3" height="2" fill="#6aa84f"/>
<rect x="1015" y="261" width="1" height="41" fill="#000"/>
<rect x="1013" y="265" width="5" height="31" fill="#000"/>
<rect x="1014" y="266" width="3" height="29" fill="#cc0000"/>
<rect x="1021" y="294" width="1" height="19" fill="#000"/>
<rect x="1019" y="295" width="5" height="11" fill="#000"/>
<rect x="1020" y="296" width="3" height="9" fill="#cc0000"/>
<rect x="1026" y="296" width="1" height="17" fill="#000"/>
<rect x="1024" y="305" width="5" height="3" fill="#000"/>
<rect x="1025" y="306" width="3" height="1" fill="#cc0000"/>
<rect x="1032" y="306" width="1" height="12" fill="#000"/>
<rect x="1030" y="307" width="5" height="5" fill="#000"/>
<rect x="1031" y="308" width="3" height="3" fill="#cc0000"/>
<rect x="1037" y="298" width="1" height="22" fill="#000"/>
<rect x="1035" y="299" width="5" height="13" fill="#000"/>
<rect x="1036" y="300" width="3" height="11" fill="#6aa84f"/>
<rect x="1043" y="295" width="1" height="13" fill="#000"/>
<rect x="1041" y="299" width="5" height="8" fill="#000"/>
<rect x="1042" y="300" width="3" height="6" fill="#cc0000"/>
<rect x="1048" y="289" width="1" height="19" fill="#000"/>
<rect x="1046" y="291" width="5" height="16" fill="#000"/>
<rect x="1047" y="292" width="3" height="14" fill="#6aa84f"/>
<rect x="1054" y="287" width="1" height="39" fill="#000"/>
<rect x="1052" y="291" width="5" height="29" fill="#000"/>
<rect x="1053" y="292" width="3" height="27" fill="#cc0000"/>
<rect x="1059" y="286" width="1" height="36" fill="#000"/>
<rect x="1057" y="293" width="5" height="27" fill="#000"/>
<rect x="1058" y="294" width="3" height="25" fill="#6aa84f"/>
<rect x="1064" y="269" width="1" height="28" fill="#000"/>
<rect x="1062" y="274" width="5" height="20" fill="#000"/>
<rect x="1063" y="275" width="3" height="18" fill="#6aa84f"/>
<rect x="1070" y="259" width="1" height="20" fill="#000"/>
<rect x="1068" y="273" width="5" height="1" fill="#000"/>
<rect x="1075" y="264" width="1" height="11" fill="#000"/>
<rect x="1073" y="270" width="5" height="3" fill="#000"/>
<rect x="1074" y="271" width="3" height="1" fill="#6aa84f"/>
<rect x="1081" y="261" width="1" height="15" fill="#000"/>
<rect x="1079" y="270" width="5" height="3" fill="#000"/>
<rect x="1080" y="271" width="3" height="1" fill="#cc0000"/>
<rect x="1086" y="269" width="1" height="30" fill="#000"/>
<rect x="1084" y="272" width="5" height="25" fill="#000"/>
<rect x="1085" y="273" width="3" height="23" fill="#cc0000"/>
<rect x="1092" y="293" width="1" height="9" fill="#000"/>
<rect x="1090" y="296" width="5" height="6" fill="#000"/>
<rect x="1091" y="297" width="3" height="4" fill="#cc0000"/>
<rect x="1097" y="292" width="1" height="48" fill="#000"/>
<rect x="1095" y="302" width="5" height="25" fill="#000"/>
<rect x="1096" y="303" width="3" height="23" fill="#cc0000"/>
<rect x="1103" y="315" width="1" height="18" fill="#000"/>
<rect x="1101" y="315" width="5" height="12" fill="#000"/>
<rect x="1102" y="316" width="3" height="10" fill="#6aa84f"/>
<rect x="1108" y="308" width="1" height="20" fill="#000"/>
<rect x="1106" y="315" width="5" height="13" fill="#000"/>
<rect x="1107" y="316" width="3" height="11" fill="#cc0000"/>
<rect x="1114" y="324" width="1" height="16" fill="#000"/>
<rect x="1112" y="328" width="5" height="8" fill="#000"/>
<rect x="1113" y="329" width="3" height="6" fill="#cc0000"/>
<rect x="1119" y="323" width="1" height="22" fill="#000"/>
<rect x="1117" y="332" width="5" height="4" fill="#000"/>
<rect x="1118" y="333" width="3" height="2" fill="#6aa84f"/>
<rect x="1125" y="330" width="1" height="63" fill="#000"/>
<rect x="1123" y="331" width="5" height="62" fill="#000"/>
<rect x="1124" y="332" width="3" height="60" fill="#cc0000"/>
<rect x="1130" y="372" width="1" height="25" fill="#000"/>
<rect x="1128" y="374" width="5" height="7" fill="#000"/>
<rect x="1129" y="375" width="3" height="5" fill="#6aa84f"/>
<rect x="1136" y="372" width="1" height="16" fill="#000"/>
<rect x="1134" y="374" width="5" height="5" fill="#000"/>
<rect x="1135" y="375" width="3" height="3" fill="#cc0000"/>
<rect x="1141" y="368" width="1" height="37" fill="#000"/>
<rect x="1139" y="379" width="5" height="22" fill="#000"/>
<rect x="1140" y="380" width="3" height="20" fill="#cc0000"/>
<rect x="1146" y="388" width="1" height="28" fill="#000"/>
<rect x="1144" y="401" width="5" height="11" fill="#000"/>
<rect x="1145" y="402" width="3" height="9" fill="#cc0000"/>
<rect x="1152" y="400" width="1" height="17" fill="#000"/>
<rect x="1150" y="411" width="5" height="1" fill="#000"/>
<rect x="1157" y="403" width="1" height="17" fill="#000"/>
<rect x="1155" y="411" width="5" height="1" fill="#000"/>
<rect x="1163" y="406" width="1" height="21" fill="#000"/>
<rect x="1161" y="411" width="5" height="9" fill="#000"/>
<rect x="1162" y="412" width="3" height="7" fill="#cc0000"/>
<rect x="1168" y="399" width="1" height="21" fill="#000"/>
<rect x="1166" y="405" width="5" height="15" fill="#000"/>
<rect x="1167" y="406" width="3" height="13" fill="#6aa84f"/>
<rect x="1174" y="400" width="1" height="16" fill="#000"/>
<rect x="1172" y="405" width="5" height="6" fill="#000"/>
<rect x="1173" y="406" width="3" height="4" fill="#cc0000"/>
<rect x="1179" y="395" width="1" height="22" fill="#000"/>
<rect x="1177" y="399" width="5" height="12" fill="#000"/>
<rect x="1178" y="400" width="3" height="10" fill="#6aa84f"/>
<rect x="1185" y="396" width="1" height="29" fill="#000"/>
<rect x="1183" y="399" width="5" height="23" fill="#000"/>
<rect x="1184" y="400" width="3" height="21" fill="#cc0000"/>
<rect x="1190" y="418" width="1" height="29" fill="#000"/>
<rect x="1188" y="421" width="5" height="26" fill="#000"/>
<rect x="1189" y="422" width="3" height="24" fill="#cc0000"/>
<rect x="1196" y="444" width="1" height="10" fill="#000"/>
<rect x="1194" y="446" width="5" height="7" fill="#000"/>
<rect x="1195" y="447" width="3" height="5" fill="#cc0000"/>
<rect x="1201" y="446" width="1" height="18" fill="#000"/>
<rect x="1199" y="452" width="5" height="1" fill="#000"/>
<rect x="1207" y="439" width="1" height="19" fill="#000"/>
<rect x="1205" y="452" width="5" height="3" fill="#000"/>
<rect x="1206" y="453" width="3" height="1" fill="#cc0000"/>
</g>
<line x1="13.0" y1="313.7" x2="1125.5" y2="313.7" stroke="#ff0000" stroke-width="2"/>
<line x1="189.0" y1="355.9" x2="1142.0" y2="355.9" stroke="#ff0000" stroke-width="2"/>
<line x1="211.0" y1="397.9" x2="1212.5" y2="397.9" stroke="#ff0000" stroke-width="2"/>
<line x1="653.7" y1="431.0" x2="1212.5" y2="431.0" stroke="#ff0000" stroke-width="2"/>
<line x1="424.0" y1="482.0" x2="1212.9" y2="482.0" stroke="#ff0000" stroke-width="2"/>
<line x1="446.2" y1="506.8" x2="556.9" y2="506.8" stroke="#ff0000" stroke-width="1.9"/>
<line x1="1003.5" y1="255.3" x2="1092.3" y2="255.3" stroke="#ff0000" stroke-width="1.8"/>
<line x1="1115.8" y1="376.8" x2="1163.6" y2="376.8" stroke="#ff0000" stroke-width="1.9"/>
<line x1="1200.3" y1="464.0" x2="1212.9" y2="464.0" stroke="#ff0000" stroke-width="2"/>
<path d="M13.6,315.7 C22.1,312.3 30.6,308.5 39.1,305.5 C45.9,303.1 52.8,301.8 59.6,299.6 C68.1,296.9 76.6,293.3 85.1,290.7 C96.4,287.3 107.8,284.5 119.1,281.7 C130.5,278.9 141.8,276.0 153.2,273.7 C158.9,272.6 164.5,272.2 170.2,271.5 C175.9,270.8 181.5,269.9 187.2,269.3 C190.2,269.0 193.2,268.8 196.2,268.9 C201.7,269.1 207.2,269.5 212.7,270.0 C222.5,270.8 232.3,271.9 242.1,272.8 C252.3,273.8 262.5,274.7 272.7,275.6 C279.5,276.2 286.4,277.1 293.2,277.5 C298.9,277.8 304.5,277.9 310.2,277.9 C315.9,277.9 321.5,277.6 327.2,277.7 C332.9,277.8 338.5,277.8 344.2,278.2 C349.9,278.6 355.5,279.7 361.2,280.4 C364.6,280.8 368.0,281.0 371.4,281.4 C377.6,282.1 383.8,282.7 390.0,283.8 C395.1,284.7 400.2,286.4 405.3,287.5 C416.6,289.9 427.9,292.2 439.2,294.3 C450.5,296.4 461.8,298.3 473.1,300.4 C484.4,302.5 495.8,304.5 507.1,306.8 C518.4,309.1 529.7,311.5 541.0,314.0 C547.3,315.4 553.7,317.1 560.0,318.3 C566.8,319.6 573.6,320.1 580.4,321.4 C589.2,323.1 598.0,326.0 606.8,327.5 C615.6,329.0 624.5,329.3 633.3,330.5 C641.4,331.6 649.6,333.1 657.7,334.2 C665.8,335.3 674.0,336.3 682.1,337.2 C688.9,337.9 695.7,338.5 702.5,339.1 C709.3,339.7 716.0,339.8 722.8,340.7 C731.0,341.8 739.1,344.0 747.3,345.2 C756.1,346.5 764.9,347.4 773.7,348.4 C781.8,349.3 790.0,349.8 798.1,350.9 C805.6,351.9 813.0,353.5 820.5,354.5 C827.3,355.4 834.1,356.1 840.9,356.6 C850.5,357.3 860.0,357.9 869.6,358.3 C878.1,358.7 886.6,359.1 895.1,359.1 C906.4,359.2 917.8,358.7 929.1,358.6 C940.5,358.5 951.8,358.4 963.2,358.3 C974.5,358.3 985.9,358.6 997.2,358.3 C1008.5,358.1 1019.7,357.2 1031.0,356.8 C1040.7,356.4 1050.3,356.4 1060.0,356.0 C1067.4,355.7 1074.7,354.9 1082.1,354.7 C1092.3,354.4 1102.5,354.2 1112.7,354.4 C1119.5,354.5 1126.4,355.2 1133.2,355.7 C1138.9,356.2 1144.5,356.7 1150.2,357.4 C1158.7,358.5 1167.2,359.9 1175.7,361.2 C1186.3,362.8 1196.8,364.5 1207.4,366.2" fill="none" stroke="#bf9000" stroke-width="2.6" stroke-linejoin="round" stroke-linecap="round"/>
<text x="205.51" y="231.6" font-size="20.64" font-weight="bold" fill="#1c4587" textLength="160.33" lengthAdjust="spacingAndGlyphs">21d weighted MA</text>
<text x="380.21" y="276.6" font-size="20.64" font-weight="bold" fill="#bf9000" textLength="172.41" lengthAdjust="spacingAndGlyphs">233d weighted MA</text>
<text x="122.76" y="362.0" font-size="20.2" font-weight="bold" fill="#ff0000" textLength="65.42" lengthAdjust="spacingAndGlyphs">1.3900</text>
<text x="1095.96" y="262.3" font-size="20.2" font-weight="bold" fill="#ff0000" textLength="65.63" lengthAdjust="spacingAndGlyphs">1.4140</text>
<text x="1128.77" y="320.0" font-size="20.2" font-weight="bold" fill="#ff0000" textLength="65.31" lengthAdjust="spacingAndGlyphs">1.4000</text>
<text x="1051.37" y="384.9" font-size="20.2" font-weight="bold" fill="#ff0000" textLength="65.31" lengthAdjust="spacingAndGlyphs">1.3850</text>
<text x="559.87" y="512.9" font-size="20.2" font-weight="bold" fill="#ff0000" textLength="65.00" lengthAdjust="spacingAndGlyphs">1.3539</text>
<text x="1212.22" y="409.4" font-size="25.99" font-weight="bold" fill="#ff0000" textLength="82.08" lengthAdjust="spacingAndGlyphs">1.3800</text>
<text x="1212.22" y="442.0" font-size="25.99" font-weight="bold" fill="#ff0000" textLength="81.98" lengthAdjust="spacingAndGlyphs">1.3720</text>
<text x="1294.69" y="442.1" font-size="22.88" font-weight="bold" fill="#ff0000" textLength="11.85" lengthAdjust="spacingAndGlyphs">~</text>
<text x="1212.23" y="470.9" font-size="25.99" font-weight="bold" fill="#ff0000" textLength="81.67" lengthAdjust="spacingAndGlyphs">1.3640</text>
<text x="1294.69" y="471.0" font-size="22.88" font-weight="bold" fill="#ff0000" textLength="11.85" lengthAdjust="spacingAndGlyphs">~</text>
<text x="1212.23" y="490.9" font-size="25.99" font-weight="bold" fill="#ff0000" textLength="81.77" lengthAdjust="spacingAndGlyphs">1.3600</text>
<text x="652.66" y="64.1" font-size="20.64" font-weight="bold" fill="#0b0b0d" textLength="191.79" lengthAdjust="spacingAndGlyphs">USD/CAD Daily Chart</text>
<text x="1097.14" y="62.9" font-size="20.64" font-weight="bold" fill="#0b0b0d" textLength="118.60" lengthAdjust="spacingAndGlyphs">1-2 day view</text>
<g stroke="#ff0000" fill="none">
<line x1="1259.6" y1="54" x2="1282" y2="76" stroke-width="6.2"/>
<path d="M1262.6,77.2 H1283 V56.2" stroke-width="6.6" stroke-linejoin="round" stroke-linecap="round"/>
</g>
<line x1="14" y1="603.5" x2="1329.5" y2="603.5" stroke="#dde8f2" stroke-width="1" shape-rendering="crispEdges"/>
<line x1="13" y1="603.5" x2="1328" y2="603.5" stroke="#ff0000" stroke-width="1.2" stroke-dasharray="1.2 1.8"/>
<g fill="#ff0000" fill-opacity="0.68" shape-rendering="crispEdges">
<rect x="14" y="603.5" width="2" height="44.5"/>
<rect x="19" y="603.5" width="2" height="37.3"/>
<rect x="25" y="603.5" width="2" height="26.6"/>
<rect x="30" y="603.5" width="2" height="17.4"/>
<rect x="36" y="603.5" width="2" height="4.7"/>
<rect x="41" y="600.0" width="2" height="3.5"/>
<rect x="47" y="597.2" width="2" height="6.3"/>
<rect x="52" y="599.1" width="2" height="4.4"/>
<rect x="58" y="598.7" width="2" height="4.8"/>
<rect x="63" y="597.0" width="2" height="6.5"/>
<rect x="69" y="594.6" width="2" height="8.9"/>
<rect x="74" y="594.3" width="2" height="9.2"/>
<rect x="80" y="596.0" width="2" height="7.5"/>
<rect x="85" y="597.9" width="2" height="5.6"/>
<rect x="90" y="602.4" width="2" height="1.1"/>
<rect x="96" y="603.5" width="2" height="5.5"/>
<rect x="101" y="603.5" width="2" height="8.7"/>
<rect x="107" y="603.5" width="2" height="9.7"/>
<rect x="112" y="603.5" width="2" height="10.5"/>
<rect x="118" y="603.5" width="2" height="12.6"/>
<rect x="123" y="603.5" width="2" height="14.8"/>
<rect x="129" y="603.5" width="2" height="18.2"/>
<rect x="134" y="603.5" width="2" height="19.0"/>
<rect x="140" y="603.5" width="2" height="19.4"/>
<rect x="145" y="603.5" width="2" height="17.1"/>
<rect x="151" y="603.5" width="2" height="14.4"/>
<rect x="156" y="603.5" width="2" height="16.7"/>
<rect x="162" y="603.5" width="2" height="21.4"/>
<rect x="167" y="603.5" width="2" height="26.9"/>
<rect x="172" y="603.5" width="2" height="28.1"/>
<rect x="178" y="603.5" width="2" height="29.3"/>
<rect x="183" y="603.5" width="2" height="31.5"/>
<rect x="189" y="603.5" width="2" height="39.3"/>
<rect x="194" y="603.5" width="2" height="51.7"/>
<rect x="200" y="603.5" width="2" height="67.4"/>
<rect x="205" y="603.5" width="2" height="73.7"/>
<rect x="211" y="603.5" width="2" height="79.4"/>
<rect x="216" y="603.5" width="2" height="83.8"/>
<rect x="222" y="603.5" width="2" height="88.1"/>
<rect x="227" y="603.5" width="2" height="91.5"/>
<rect x="233" y="603.5" width="2" height="91.9"/>
<rect x="238" y="603.5" width="2" height="89.4"/>
<rect x="244" y="603.5" width="2" height="83.2"/>
<rect x="249" y="603.5" width="2" height="78.0"/>
<rect x="254" y="603.5" width="2" height="73.4"/>
<rect x="260" y="603.5" width="2" height="68.1"/>
<rect x="265" y="603.5" width="2" height="64.5"/>
<rect x="271" y="603.5" width="2" height="60.2"/>
<rect x="276" y="603.5" width="2" height="57.1"/>
<rect x="282" y="603.5" width="2" height="53.7"/>
<rect x="287" y="603.5" width="2" height="51.3"/>
<rect x="293" y="603.5" width="2" height="48.6"/>
<rect x="298" y="603.5" width="2" height="42.7"/>
<rect x="304" y="603.5" width="2" height="32.4"/>
<rect x="309" y="603.5" width="2" height="21.7"/>
<rect x="315" y="603.5" width="2" height="12.0"/>
<rect x="320" y="603.5" width="2" height="6.2"/>
<rect x="326" y="603.5" width="2" height="0.5"/>
<rect x="331" y="599.3" width="2" height="4.2"/>
<rect x="336" y="597.7" width="2" height="5.8"/>
<rect x="342" y="596.4" width="2" height="7.1"/>
<rect x="347" y="598.6" width="2" height="4.9"/>
<rect x="353" y="602.3" width="2" height="1.2"/>
<rect x="358" y="603.5" width="2" height="5.4"/>
<rect x="364" y="603.5" width="2" height="17.3"/>
<rect x="369" y="603.5" width="2" height="21.1"/>
<rect x="375" y="603.5" width="2" height="21.3"/>
<rect x="380" y="603.5" width="2" height="21.3"/>
<rect x="386" y="603.5" width="2" height="24.5"/>
<rect x="391" y="603.5" width="2" height="27.3"/>
<rect x="397" y="603.5" width="2" height="29.3"/>
<rect x="402" y="603.5" width="2" height="32.4"/>
<rect x="408" y="603.5" width="2" height="36.2"/>
<rect x="413" y="603.5" width="2" height="36.8"/>
<rect x="418" y="603.5" width="2" height="37.5"/>
<rect x="424" y="603.5" width="2" height="37.8"/>
<rect x="429" y="603.5" width="2" height="38.5"/>
<rect x="435" y="603.5" width="2" height="40.4"/>
<rect x="440" y="603.5" width="2" height="42.2"/>
<rect x="446" y="603.5" width="2" height="44.8"/>
<rect x="451" y="603.5" width="2" height="43.2"/>
<rect x="457" y="603.5" width="2" height="39.4"/>
<rect x="462" y="603.5" width="2" height="32.7"/>
<rect x="468" y="603.5" width="2" height="26.7"/>
<rect x="473" y="603.5" width="2" height="20.0"/>
<rect x="479" y="603.5" width="2" height="14.7"/>
<rect x="484" y="603.5" width="2" height="10.7"/>
<rect x="490" y="603.5" width="2" height="8.2"/>
<rect x="495" y="603.5" width="2" height="6.5"/>
<rect x="500" y="603.5" width="2" height="6.8"/>
<rect x="506" y="603.5" width="2" height="8.0"/>
<rect x="511" y="603.5" width="2" height="9.7"/>
<rect x="517" y="603.5" width="2" height="13.9"/>
<rect x="522" y="603.5" width="2" height="16.7"/>
<rect x="528" y="603.5" width="2" height="17.0"/>
<rect x="533" y="603.5" width="2" height="14.8"/>
<rect x="539" y="603.5" width="2" height="11.5"/>
<rect x="544" y="603.5" width="2" height="8.6"/>
<rect x="550" y="603.5" width="2" height="5.0"/>
<rect x="555" y="603.5" width="2" height="1.4"/>
<rect x="561" y="600.6" width="2" height="2.9"/>
<rect x="566" y="597.4" width="2" height="6.1"/>
<rect x="572" y="593.8" width="2" height="9.7"/>
<rect x="577" y="591.4" width="2" height="12.1"/>
<rect x="582" y="590.7" width="2" height="12.8"/>
<rect x="588" y="593.7" width="2" height="9.8"/>
<rect x="593" y="599.7" width="2" height="3.8"/>
<rect x="599" y="603.0" width="2" height="0.5"/>
<rect x="604" y="603.4" width="2" height="0.5"/>
<rect x="610" y="600.5" width="2" height="3.0"/>
<rect x="615" y="596.8" width="2" height="6.7"/>
<rect x="621" y="589.3" width="2" height="14.2"/>
<rect x="626" y="584.4" width="2" height="19.1"/>
<rect x="632" y="580.1" width="2" height="23.4"/>
<rect x="637" y="578.2" width="2" height="25.3"/>
<rect x="643" y="576.7" width="2" height="26.8"/>
<rect x="648" y="578.0" width="2" height="25.5"/>
<rect x="654" y="579.7" width="2" height="23.8"/>
<rect x="659" y="581.5" width="2" height="22.0"/>
<rect x="664" y="583.4" width="2" height="20.1"/>
<rect x="670" y="585.2" width="2" height="18.3"/>
<rect x="675" y="586.7" width="2" height="16.8"/>
<rect x="681" y="587.4" width="2" height="16.1"/>
<rect x="686" y="587.6" width="2" height="15.9"/>
<rect x="692" y="585.8" width="2" height="17.7"/>
<rect x="697" y="584.1" width="2" height="19.4"/>
<rect x="703" y="580.9" width="2" height="22.6"/>
<rect x="708" y="577.7" width="2" height="25.8"/>
<rect x="714" y="576.6" width="2" height="26.9"/>
<rect x="719" y="576.8" width="2" height="26.7"/>
<rect x="725" y="577.9" width="2" height="25.6"/>
<rect x="730" y="581.0" width="2" height="22.5"/>
<rect x="736" y="587.0" width="2" height="16.5"/>
<rect x="741" y="592.6" width="2" height="10.9"/>
<rect x="746" y="597.2" width="2" height="6.3"/>
<rect x="752" y="601.0" width="2" height="2.5"/>
<rect x="757" y="602.6" width="2" height="0.9"/>
<rect x="763" y="603.4" width="2" height="0.5"/>
<rect x="768" y="603.5" width="2" height="0.5"/>
<rect x="774" y="602.5" width="2" height="1.0"/>
<rect x="779" y="601.4" width="2" height="2.1"/>
<rect x="785" y="598.5" width="2" height="5.0"/>
<rect x="790" y="596.4" width="2" height="7.1"/>
<rect x="796" y="595.5" width="2" height="8.0"/>
<rect x="801" y="597.4" width="2" height="6.1"/>
<rect x="807" y="600.3" width="2" height="3.2"/>
<rect x="812" y="603.5" width="2" height="0.5"/>
<rect x="817" y="603.5" width="2" height="2.3"/>
<rect x="823" y="603.5" width="2" height="3.3"/>
<rect x="828" y="603.5" width="2" height="3.7"/>
<rect x="834" y="603.5" width="2" height="1.5"/>
<rect x="839" y="602.1" width="2" height="1.4"/>
<rect x="845" y="596.2" width="2" height="7.3"/>
<rect x="850" y="591.3" width="2" height="12.2"/>
<rect x="856" y="585.7" width="2" height="17.8"/>
<rect x="861" y="583.0" width="2" height="20.5"/>
<rect x="867" y="579.7" width="2" height="23.8"/>
<rect x="872" y="576.6" width="2" height="26.9"/>
<rect x="878" y="574.2" width="2" height="29.3"/>
<rect x="883" y="572.9" width="2" height="30.6"/>
<rect x="889" y="573.0" width="2" height="30.5"/>
<rect x="894" y="573.1" width="2" height="30.4"/>
<rect x="899" y="573.3" width="2" height="30.2"/>
<rect x="905" y="572.2" width="2" height="31.3"/>
<rect x="910" y="571.1" width="2" height="32.4"/>
<rect x="916" y="568.4" width="2" height="35.1"/>
<rect x="921" y="567.3" width="2" height="36.2"/>
<rect x="927" y="566.7" width="2" height="36.8"/>
<rect x="932" y="567.3" width="2" height="36.2"/>
<rect x="938" y="568.2" width="2" height="35.3"/>
<rect x="943" y="571.2" width="2" height="32.3"/>
<rect x="949" y="574.8" width="2" height="28.7"/>
<rect x="954" y="577.8" width="2" height="25.7"/>
<rect x="960" y="581.4" width="2" height="22.1"/>
<rect x="965" y="584.6" width="2" height="18.9"/>
<rect x="971" y="590.5" width="2" height="13.0"/>
<rect x="976" y="595.3" width="2" height="8.2"/>
<rect x="981" y="597.6" width="2" height="5.9"/>
<rect x="987" y="598.6" width="2" height="4.9"/>
<rect x="992" y="598.1" width="2" height="5.4"/>
<rect x="998" y="594.4" width="2" height="9.1"/>
<rect x="1003" y="590.2" width="2" height="13.3"/>
<rect x="1009" y="586.0" width="2" height="17.5"/>
<rect x="1014" y="584.6" width="2" height="18.9"/>
<rect x="1020" y="586.4" width="2" height="17.1"/>
<rect x="1025" y="588.5" width="2" height="15.0"/>
<rect x="1031" y="592.1" width="2" height="11.4"/>
<rect x="1036" y="594.7" width="2" height="8.8"/>
<rect x="1042" y="597.2" width="2" height="6.3"/>
<rect x="1047" y="599.1" width="2" height="4.4"/>
<rect x="1053" y="600.8" width="2" height="2.7"/>
<rect x="1058" y="602.2" width="2" height="1.3"/>
<rect x="1063" y="600.2" width="2" height="3.3"/>
<rect x="1069" y="597.1" width="2" height="6.4"/>
<rect x="1074" y="594.0" width="2" height="9.5"/>
<rect x="1080" y="590.9" width="2" height="12.6"/>
<rect x="1085" y="590.9" width="2" height="12.6"/>
<rect x="1091" y="592.5" width="2" height="11.0"/>
<rect x="1096" y="595.3" width="2" height="8.2"/>
<rect x="1102" y="600.3" width="2" height="3.2"/>
<rect x="1107" y="603.5" width="2" height="0.9"/>
<rect x="1113" y="603.5" width="2" height="5.4"/>
<rect x="1118" y="603.5" width="2" height="9.8"/>
<rect x="1124" y="603.5" width="2" height="18.8"/>
<rect x="1129" y="603.5" width="2" height="25.4"/>
<rect x="1135" y="603.5" width="2" height="32.1"/>
<rect x="1140" y="603.5" width="2" height="35.8"/>
<rect x="1145" y="603.5" width="2" height="40.1"/>
<rect x="1151" y="603.5" width="2" height="45.5"/>
<rect x="1156" y="603.5" width="2" height="48.6"/>
<rect x="1162" y="603.5" width="2" height="52.0"/>
<rect x="1167" y="603.5" width="2" height="51.6"/>
<rect x="1173" y="603.5" width="2" height="50.9"/>
<rect x="1178" y="603.5" width="2" height="48.4"/>
<rect x="1184" y="603.5" width="2" height="46.6"/>
<rect x="1189" y="603.5" width="2" height="46.7"/>
<rect x="1195" y="603.5" width="2" height="48.3"/>
<rect x="1200" y="603.5" width="2" height="49.9"/>
<rect x="1206" y="603.5" width="2" height="50.2"/>
</g>
<path d="M15.0,648.0 L20.0,640.8 L26.0,630.1 L31.0,620.9 L37.0,608.2 L42.0,600.0 L48.0,597.2 L53.0,599.1 L59.0,598.7 L64.0,597.0 L70.0,594.6 L75.0,594.3 L81.0,596.0 L86.0,597.9 L91.0,602.4 L97.0,609.0 L102.0,612.2 L108.0,613.2 L113.0,614.0 L119.0,616.1 L124.0,618.3 L130.0,621.7 L135.0,622.5 L141.0,622.9 L146.0,620.6 L152.0,617.9 L157.0,620.2 L163.0,624.9 L168.0,630.4 L173.0,631.6 L179.0,632.8 L184.0,635.0 L190.0,642.8 L195.0,655.2 L201.0,670.9 L206.0,677.2 L212.0,682.9 L217.0,687.3 L223.0,691.6 L228.0,695.0 L234.0,695.4 L239.0,692.9 L245.0,686.7 L250.0,681.5 L255.0,676.9 L261.0,671.6 L266.0,668.0 L272.0,663.7 L277.0,660.6 L283.0,657.2 L288.0,654.8 L294.0,652.1 L299.0,646.2 L305.0,635.9 L310.0,625.2 L316.0,615.5 L321.0,609.7 L327.0,603.6 L332.0,599.3 L337.0,597.7 L343.0,596.4 L348.0,598.6 L354.0,602.3 L359.0,608.9 L365.0,620.8 L370.0,624.6 L376.0,624.8 L381.0,624.8 L387.0,628.0 L392.0,630.8 L398.0,632.8 L403.0,635.9 L409.0,639.7 L414.0,640.3 L419.0,641.0 L425.0,641.3 L430.0,642.0 L436.0,643.9 L441.0,645.7 L447.0,648.3 L452.0,646.7 L458.0,642.9 L463.0,636.2 L469.0,630.2 L474.0,623.5 L480.0,618.2 L485.0,614.2 L491.0,611.7 L496.0,610.0 L501.0,610.3 L507.0,611.5 L512.0,613.2 L518.0,617.4 L523.0,620.2 L529.0,620.5 L534.0,618.3 L540.0,615.0 L545.0,612.1 L551.0,608.5 L556.0,604.9 L562.0,600.6 L567.0,597.4 L573.0,593.8 L578.0,591.4 L583.0,590.7 L589.0,593.7 L594.0,599.7 L600.0,603.0 L605.0,603.4 L611.0,600.5 L616.0,596.8 L622.0,589.3 L627.0,584.4 L633.0,580.1 L638.0,578.2 L644.0,576.7 L649.0,578.0 L655.0,579.7 L660.0,581.5 L665.0,583.4 L671.0,585.2 L676.0,586.7 L682.0,587.4 L687.0,587.6 L693.0,585.8 L698.0,584.1 L704.0,580.9 L709.0,577.7 L715.0,576.6 L720.0,576.8 L726.0,577.9 L731.0,581.0 L737.0,587.0 L742.0,592.6 L747.0,597.2 L753.0,601.0 L758.0,602.6 L764.0,603.4 L769.0,603.5 L775.0,602.5 L780.0,601.4 L786.0,598.5 L791.0,596.4 L797.0,595.5 L802.0,597.4 L808.0,600.3 L813.0,603.6 L818.0,605.8 L824.0,606.8 L829.0,607.2 L835.0,605.0 L840.0,602.1 L846.0,596.2 L851.0,591.3 L857.0,585.7 L862.0,583.0 L868.0,579.7 L873.0,576.6 L879.0,574.2 L884.0,572.9 L890.0,573.0 L895.0,573.1 L900.0,573.3 L906.0,572.2 L911.0,571.1 L917.0,568.4 L922.0,567.3 L928.0,566.7 L933.0,567.3 L939.0,568.2 L944.0,571.2 L950.0,574.8 L955.0,577.8 L961.0,581.4 L966.0,584.6 L972.0,590.5 L977.0,595.3 L982.0,597.6 L988.0,598.6 L993.0,598.1 L999.0,594.4 L1004.0,590.2 L1010.0,586.0 L1015.0,584.6 L1021.0,586.4 L1026.0,588.5 L1032.0,592.1 L1037.0,594.7 L1043.0,597.2 L1048.0,599.1 L1054.0,600.8 L1059.0,602.2 L1064.0,600.2 L1070.0,597.1 L1075.0,594.0 L1081.0,590.9 L1086.0,590.9 L1092.0,592.5 L1097.0,595.3 L1103.0,600.3 L1108.0,604.4 L1114.0,608.9 L1119.0,613.3 L1125.0,622.3 L1130.0,628.9 L1136.0,635.6 L1141.0,639.3 L1146.0,643.6 L1152.0,649.0 L1157.0,652.1 L1163.0,655.5 L1168.0,655.1 L1174.0,654.4 L1179.0,651.9 L1185.0,650.1 L1190.0,650.2 L1196.0,651.8 L1201.0,653.4 L1207.0,653.7" fill="none" stroke="#ff0000" stroke-opacity="0.68" stroke-width="2.2" stroke-linejoin="round"/>
<path d="M13.1,655.8 C15.5,653.4 17.8,651.5 20.2,648.6 C23.6,644.4 27.0,640.2 30.4,634.4 C33.8,628.7 37.1,619.2 40.5,614.0 C43.9,608.7 47.3,605.3 50.7,602.8 C54.1,600.3 57.5,599.9 60.9,598.8 C64.3,597.7 67.7,596.8 71.1,596.3 C74.5,595.8 77.8,595.4 81.2,595.7 C84.6,596.1 88.0,596.7 91.4,598.4 C94.1,599.8 96.9,603.0 99.6,604.9 C103.7,607.7 107.7,610.7 111.8,612.6 C115.9,614.5 119.9,614.7 124.0,616.1 C127.4,617.3 130.8,619.4 134.2,620.5 C136.9,621.3 139.6,622.0 142.3,621.8 C146.4,621.5 150.4,619.2 154.5,619.1 C157.2,619.0 160.0,619.9 162.7,621.2 C166.1,622.8 169.4,625.9 172.8,627.7 C176.2,629.6 179.6,630.5 183.0,632.3 C185.7,633.7 188.5,634.3 191.2,637.4 C193.9,640.4 196.6,646.0 199.3,650.7 C202.7,656.6 206.1,663.6 209.5,669.0 C212.9,674.4 216.2,679.4 219.6,683.2 C223.0,687.0 226.4,689.8 229.8,691.8 C232.5,693.4 235.3,694.3 238.0,694.0 C242.1,693.5 246.1,692.0 250.2,689.3 C253.6,687.1 257.0,682.2 260.4,679.2 C265.1,675.1 269.9,671.6 274.6,668.0 C278.0,665.4 281.4,662.9 284.8,660.8 C288.2,658.6 291.6,657.7 295.0,655.1 C297.7,653.0 300.4,649.5 303.1,646.6 C305.5,644.0 307.8,642.0 310.2,638.5 C313.6,633.5 317.0,626.3 320.4,621.2 C323.8,616.1 327.1,611.4 330.5,607.9 C333.9,604.4 337.3,602.0 340.7,600.2 C343.4,598.8 346.2,598.4 348.9,598.4 C351.3,598.4 353.6,598.5 356.0,600.2 C358.4,602.0 360.7,606.3 363.1,608.9 C366.5,612.6 369.9,616.5 373.3,619.1 C376.7,621.7 380.1,622.7 383.5,624.2 C386.2,625.4 388.9,626.3 391.6,627.3 C395.0,628.6 398.4,629.6 401.8,631.3 C404.5,632.6 407.2,635.2 409.9,636.4 C413.3,637.9 416.7,638.8 420.1,639.5 C423.5,640.2 426.9,639.8 430.3,640.5 C433.7,641.2 437.0,642.4 440.4,643.5 C443.1,644.4 445.9,646.4 448.6,646.6 C452.0,646.9 455.4,646.4 458.8,645.0 C462.2,643.7 465.5,641.6 468.9,638.5 C472.3,635.4 475.7,629.9 479.1,626.2 C482.5,622.5 485.9,618.8 489.3,616.1 C492.0,613.9 494.7,612.6 497.4,611.6 C499.4,610.9 501.5,610.9 503.5,611.0 C506.9,611.2 510.3,611.3 513.7,612.4 C516.4,613.2 519.2,615.6 521.9,616.7 C524.6,617.8 527.3,619.1 530.0,619.1 C534.1,619.1 538.1,618.2 542.2,616.7 C546.3,615.2 550.3,612.5 554.4,610.0 C558.5,607.5 562.5,604.4 566.6,601.8 C570.0,599.6 573.4,597.4 576.8,595.7 C579.5,594.3 582.3,592.9 585.0,592.7 C587.7,592.5 590.4,593.4 593.1,594.3 C595.5,595.1 597.8,596.5 600.2,597.7 C602.9,599.0 605.6,601.5 608.3,601.8 C611.7,602.1 615.1,601.3 618.5,599.4 C621.9,597.5 625.3,593.4 628.7,590.6 C632.1,587.8 635.4,584.5 638.8,582.5 C642.2,580.5 645.6,578.8 649.0,578.4 C653.1,577.9 657.1,578.9 661.2,579.8 C664.6,580.6 668.0,582.4 671.4,583.5 C674.8,584.6 678.2,585.9 681.6,586.5 C685.0,587.1 688.4,587.4 691.8,587.2 C695.2,587.0 698.6,586.6 702.0,585.5 C705.4,584.4 708.7,581.6 712.1,580.4 C715.5,579.1 718.9,578.2 722.3,578.0 C725.7,577.8 729.1,578.1 732.5,579.4 C735.2,580.4 737.9,583.0 740.6,585.1 C744.0,587.8 747.4,591.0 750.8,593.7 C753.5,595.8 756.2,598.0 758.9,599.4 C762.3,601.2 765.7,602.8 769.1,603.2 C773.2,603.7 777.2,603.1 781.3,602.2 C785.4,601.3 789.4,598.8 793.5,597.7 C796.2,597.0 799.0,596.6 801.7,596.7 C804.4,596.8 807.1,597.4 809.8,598.4 C813.2,599.6 816.6,602.0 820.0,603.4 C823.4,604.8 826.8,606.5 830.2,606.9 C833.6,607.3 836.9,607.0 840.3,605.9 C843.7,604.8 847.1,602.8 850.5,600.2 C853.9,597.7 857.3,593.6 860.7,590.6 C864.1,587.6 867.5,584.8 870.9,582.5 C874.3,580.2 877.7,578.6 881.1,577.0 C884.1,575.6 887.2,574.2 890.2,573.7 C893.6,573.1 897.0,573.9 900.4,573.7 C903.8,573.5 907.1,573.0 910.5,572.3 C913.9,571.5 917.3,570.0 920.7,569.2 C924.1,568.5 927.5,568.0 930.9,567.8 C934.3,567.6 937.7,567.7 941.1,568.2 C943.8,568.6 946.5,569.5 949.2,570.7 C952.6,572.2 956.0,574.5 959.4,576.4 C962.1,577.9 964.8,579.1 967.5,581.1 C970.2,583.1 973.0,586.3 975.7,588.6 C978.4,590.9 981.1,593.1 983.8,594.7 C986.5,596.3 989.2,597.9 991.9,598.2 C994.6,598.5 997.4,597.8 1000.1,596.7 C1002.8,595.6 1005.5,593.1 1008.2,591.6 C1011.6,589.7 1015.0,587.2 1018.4,586.5 C1021.8,585.8 1025.2,586.4 1028.6,587.2 C1032.0,588.1 1035.4,590.2 1038.8,591.6 C1042.9,593.3 1046.9,595.1 1051.0,596.7 C1055.1,598.3 1059.1,600.7 1063.2,601.2 C1065.9,601.6 1068.6,600.5 1071.3,599.4 C1074.0,598.3 1076.8,595.9 1079.5,594.7 C1082.2,593.5 1084.9,592.4 1087.6,592.2 C1091.0,591.9 1094.4,592.2 1097.8,593.1 C1100.5,593.9 1103.2,595.6 1105.9,597.3 C1109.3,599.5 1112.7,601.8 1116.1,604.9 C1119.5,608.0 1122.9,612.0 1126.3,616.1 C1129.7,620.2 1133.1,625.4 1136.5,629.3 C1139.9,633.2 1143.2,636.3 1146.6,639.5 C1150.0,642.7 1153.4,646.2 1156.8,648.6 C1160.2,651.0 1163.6,653.0 1167.0,654.1 C1169.8,655.0 1172.5,654.7 1175.3,654.5 C1178.0,654.3 1180.8,653.3 1183.5,652.7 C1185.5,652.2 1187.6,651.4 1189.6,651.3 C1192.3,651.2 1195.0,652.1 1197.7,652.3 C1200.9,652.6 1204.1,652.6 1207.3,652.7" fill="none" stroke="#0a0aff" stroke-opacity="0.72" stroke-width="2.4" stroke-linejoin="round"/>
<text x="50.96" y="577.2" font-size="20.78" font-weight="bold" fill="#0b0b0d" textLength="160.34" lengthAdjust="spacingAndGlyphs">Tension Indicator</text>
<line x1="1329.5" y1="33.5" x2="1329.5" y2="764.5" stroke="#50535e" stroke-width="1" shape-rendering="crispEdges"/>
<line x1="12.5" y1="710.5" x2="1461.5" y2="710.5" stroke="#50535e" stroke-width="1" shape-rendering="crispEdges"/>
<text x="1346.06" y="154.2" font-size="25.56" font-weight="normal" fill="#0b0b0d" stroke="#0b0b0d" stroke-width="0.41" textLength="88.93" lengthAdjust="spacingAndGlyphs">1.44000</text>
<text x="1346.06" y="238.4" font-size="25.56" font-weight="normal" fill="#0b0b0d" stroke="#0b0b0d" stroke-width="0.41" textLength="88.93" lengthAdjust="spacingAndGlyphs">1.42000</text>
<text x="1346.06" y="322.7" font-size="25.56" font-weight="normal" fill="#0b0b0d" stroke="#0b0b0d" stroke-width="0.41" textLength="88.93" lengthAdjust="spacingAndGlyphs">1.40000</text>
<text x="1346.06" y="406.9" font-size="25.56" font-weight="normal" fill="#0b0b0d" stroke="#0b0b0d" stroke-width="0.41" textLength="88.93" lengthAdjust="spacingAndGlyphs">1.38000</text>
<text x="1346.06" y="491.2" font-size="25.56" font-weight="normal" fill="#0b0b0d" stroke="#0b0b0d" stroke-width="0.41" textLength="88.93" lengthAdjust="spacingAndGlyphs">1.36000</text>
<path d="M1330,349 H1442 a2,2 0 0 1 2,2 V382 a2,2 0 0 1 -2,2 H1330 Z" fill="#c09000"/>
<text x="1346.06" y="375.0" font-size="25.28" font-weight="normal" fill="#fff" stroke="#fff" stroke-width="0.4" textLength="88.67" lengthAdjust="spacingAndGlyphs">1.38754</text>
<path d="M1330,399 H1442 a2,2 0 0 1 2,2 V432 a2,2 0 0 1 -2,2 H1330 Z" fill="#3c40a4"/>
<text x="1346.05" y="425.0" font-size="25.28" font-weight="normal" fill="#fff" stroke="#fff" stroke-width="0.4" textLength="89.24" lengthAdjust="spacingAndGlyphs">1.37567</text>
<path d="M1330,437 H1442 a2,2 0 0 1 2,2 V470 a2,2 0 0 1 -2,2 H1330 Z" fill="#cc0000"/>
<text x="1346.05" y="463.0" font-size="25.28" font-weight="normal" fill="#fff" stroke="#fff" stroke-width="0.4" textLength="88.99" lengthAdjust="spacingAndGlyphs">1.36665</text>
<rect x="1334.2" y="39" width="122.5" height="32" rx="5" fill="#fff" stroke="#eff0f3" stroke-width="1.5"/>
<text x="1344.74" y="59.9" font-size="15.99" font-weight="normal" fill="#1c1c1f" stroke="#1c1c1f" stroke-width="0.13" textLength="27.87" lengthAdjust="spacingAndGlyphs">CAD</text>
<text x="14.55" y="743.0" font-size="26.16" font-weight="normal" fill="#0b0b0d" stroke="#0b0b0d" stroke-width="0.42" textLength="42.71" lengthAdjust="spacingAndGlyphs">Mar</text>
<text x="132.54" y="743.0" font-size="26.16" font-weight="normal" fill="#0b0b0d" stroke="#0b0b0d" stroke-width="0.42" textLength="37.75" lengthAdjust="spacingAndGlyphs">Apr</text>
<text x="248.65" y="743.0" font-size="26.16" font-weight="normal" fill="#0b0b0d" stroke="#0b0b0d" stroke-width="0.42" textLength="44.69" lengthAdjust="spacingAndGlyphs">May</text>
<text x="372.33" y="743.0" font-size="26.16" font-weight="normal" fill="#0b0b0d" stroke="#0b0b0d" stroke-width="0.42" textLength="40.15" lengthAdjust="spacingAndGlyphs">Jun</text>
<text x="490.81" y="743.0" font-size="26.16" font-weight="normal" fill="#0b0b0d" stroke="#0b0b0d" stroke-width="0.42" textLength="33.38" lengthAdjust="spacingAndGlyphs">Jul</text>
<text x="612.44" y="743.0" font-size="26.16" font-weight="normal" fill="#0b0b0d" stroke="#0b0b0d" stroke-width="0.42" textLength="42.18" lengthAdjust="spacingAndGlyphs">Aug</text>
<text x="727.38" y="743.0" font-size="26.16" font-weight="normal" fill="#0b0b0d" stroke="#0b0b0d" stroke-width="0.42" textLength="40.48" lengthAdjust="spacingAndGlyphs">Sep</text>
<text x="847.51" y="743.0" font-size="26.16" font-weight="normal" fill="#0b0b0d" stroke="#0b0b0d" stroke-width="0.42" textLength="39.10" lengthAdjust="spacingAndGlyphs">Oct</text>
<text x="971.22" y="743.0" font-size="26.16" font-weight="normal" fill="#0b0b0d" stroke="#0b0b0d" stroke-width="0.42" textLength="42.72" lengthAdjust="spacingAndGlyphs">Nov</text>
<text x="1081.46" y="743.0" font-size="26.16" font-weight="normal" fill="#0b0b0d" stroke="#0b0b0d" stroke-width="0.42" textLength="41.91" lengthAdjust="spacingAndGlyphs">Dec</text>
<text x="1194.59" y="743.0" font-size="25.42" font-weight="bold" fill="#0b0b0d" textLength="57.67" lengthAdjust="spacingAndGlyphs">2026</text>
<text x="12.55" y="25.0" font-size="15.55" font-weight="normal" fill="#1c1c1f" stroke="#1c1c1f" stroke-width="0.12" textLength="529.05" lengthAdjust="spacingAndGlyphs">Continuum_Economics created with TradingView.com, Dec 29, 2025 14:51 UTC</text>
<g fill="#141518">
<path d="M15.6,792.6 H30.5 V810.7 H22.9 V799.8 H15.6 Z"/>
<circle cx="36.5" cy="795.9" r="3.3"/>
<path d="M42.6,792.6 H52.7 L45.6,810.7 H36.3 Z"/>
</g>
<text x="61.58" y="810.7" font-size="25.87" font-weight="bold" fill="#141518" textLength="151.25" lengthAdjust="spacingAndGlyphs">TradingView</text>
</svg>
</body></html>
